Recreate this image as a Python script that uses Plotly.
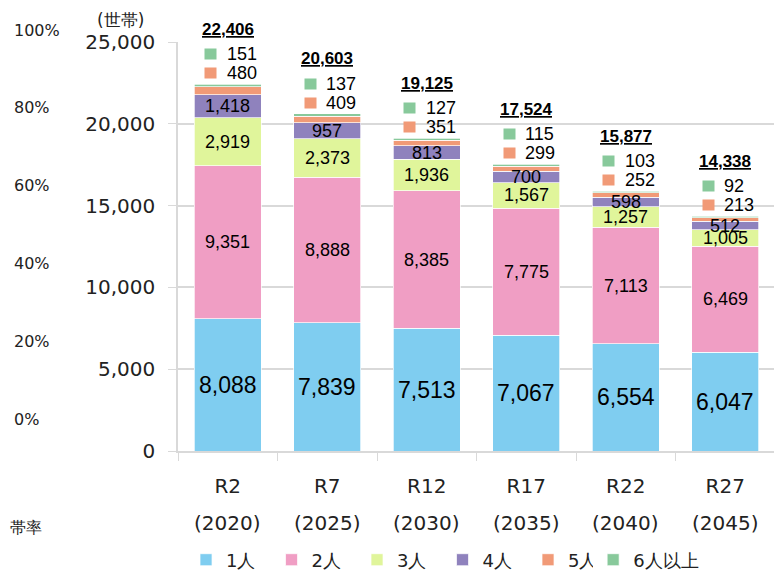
import plotly.graph_objects as go

# household counts by size (世帯)
categories = ["R2", "R7", "R12", "R17", "R22", "R27"]
years = ["(2020)", "(2025)", "(2030)", "(2035)", "(2040)", "(2045)"]
p1 = [8088, 7839, 7513, 7067, 6554, 6047]
p2 = [9351, 8888, 8385, 7775, 7113, 6469]
p3 = [2919, 2373, 1936, 1567, 1257, 1005]
p4 = [1418, 957, 813, 700, 598, 512]
p5 = [480, 409, 351, 299, 252, 213]
p6 = [151, 137, 127, 115, 103, 92]
totals = [22406, 20603, 19125, 17524, 15877, 14338]
pct_labels = ["0%", "20%", "40%", "60%", "80%", "100%"]

series = [
    ("1人", p1, "#7fcdf0"),
    ("2人", p2, "#f09ec4"),
    ("3人", p3, "#e0f59b"),
    ("4人", p4, "#8f82bd"),
    ("5人", p5, "#f19a77"),
    ("6人以上", p6, "#88c99b"),
]

AXIS_FONT = "DejaVu Sans, Verdana, sans-serif"
LABEL_FONT = "Liberation Sans, Arial, sans-serif"

fig = go.Figure()
for idx, (name, vals, color) in enumerate(series):
    fig.add_trace(go.Bar(
        x=categories,
        y=vals,
        name=name,
        marker=dict(color=color, line=dict(color="white", width=0.7)),
        # last entry sits in its own legend so the fixed-width one doesn't clip it
        legend="legend2" if idx == len(series) - 1 else "legend",
    ))

annotations = []
for i, cat in enumerate(categories):
    # labels inside the 1-4 person segments
    base = 0
    for k, (name, vals, color) in enumerate(series[:4]):
        v = vals[i]
        annotations.append(dict(
            x=cat, y=base + v / 2, text=f"{v:,}", showarrow=False,
            font=dict(family=LABEL_FONT, size=23 if k == 0 else 18, color="black"),
        ))
        base += v
    top = totals[i]
    # 5人 and 6人以上 labels above the bar with colored squares
    for vals, color, shift in [(p5, series[4][2], 11), (p6, series[5][2], 30)]:
        annotations.append(dict(
            x=cat, y=top, text=" ", showarrow=False, width=11, height=10,
            bgcolor=color, borderpad=0, xshift=-17, yshift=shift,
            font=dict(size=2),
        ))
        annotations.append(dict(
            x=cat, y=top, text=f"{vals[i]:,}", showarrow=False,
            xanchor="left", xshift=-3, yshift=shift,
            font=dict(family=LABEL_FONT, size=18, color="black"),
        ))
    annotations.append(dict(
        x=cat, y=top, text=f"<b><u>{top:,}</u></b>", showarrow=False,
        yshift=55, font=dict(family=LABEL_FONT, size=17, color="black"),
    ))
    # year under the category label
    annotations.append(dict(
        x=cat, xref="x", y=-0.176, yref="paper", yanchor="middle",
        text=years[i], showarrow=False,
        font=dict(family=AXIS_FONT, size=20, color="#222"),
    ))

# leftover percentage scale on the far left
for j, lab in enumerate(pct_labels):
    annotations.append(dict(
        x=-0.278, xref="paper", xanchor="left",
        y=0.078 + j * 0.1902, yref="paper", yanchor="middle",
        text=lab, showarrow=False,
        font=dict(family=AXIS_FONT, size=16, color="#222"),
    ))
annotations.append(dict(
    x=-0.285, xref="paper", xanchor="left", y=-0.186, yref="paper", yanchor="middle",
    text="帯率", showarrow=False, font=dict(family=AXIS_FONT, size=16, color="#222"),
))
annotations.append(dict(
    x=-0.097, xref="paper", xanchor="center", y=1.055, yref="paper", yanchor="middle",
    text="(世帯)", showarrow=False,
    font=dict(family=AXIS_FONT, size=17, color="#222"),
))

legend_font = dict(family=AXIS_FONT, size=18, color="#222")

fig.update_layout(
    barmode="stack",
    bargap=0.33,
    width=774, height=565,
    margin=dict(l=170, r=7, t=34, b=122, autoexpand=False),
    plot_bgcolor="white",
    paper_bgcolor="white",
    annotations=annotations,
    showlegend=True,
    legend=dict(
        orientation="h", xref="container", yref="container",
        x=0.230, xanchor="left", y=0.023, yanchor="middle",
        font=legend_font, traceorder="normal", entrywidth=40.5,
    ),
    legend2=dict(
        orientation="h", xref="container", yref="container",
        x=0.756, xanchor="left", y=0.023, yanchor="middle",
        font=legend_font,
    ),
    xaxis=dict(
        automargin=False,
        showline=True, linecolor="#d9d9d9", linewidth=1.5,
        ticks="outside", tickson="boundaries", ticklen=8, tickcolor="#d9d9d9",
        tickfont=dict(family=AXIS_FONT, size=20, color="#222"),
        ticklabelstandoff=16,
    ),
    yaxis=dict(
        automargin=False,
        range=[0, 25000], dtick=5000, tickformat=",",
        showgrid=True, gridcolor="#d9d9d9", gridwidth=1.5,
        showline=True, linecolor="#d9d9d9", linewidth=1.5,
        ticks="outside", ticklen=8, tickcolor="#d9d9d9",
        tickfont=dict(family=AXIS_FONT, size=20, color="#222"),
        ticklabelstandoff=9, zeroline=False,
    ),
)

fig.write_html("out.html")
